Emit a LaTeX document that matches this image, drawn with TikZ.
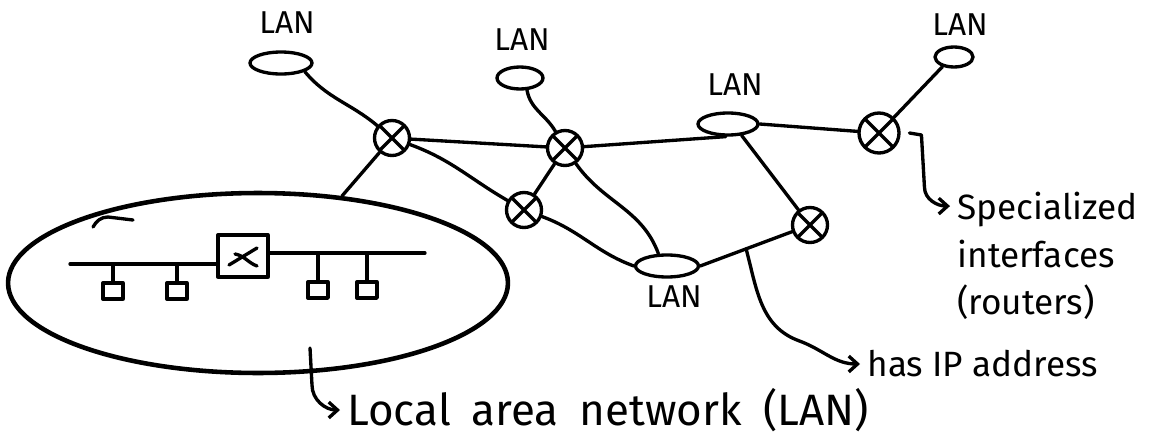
\documentclass[tikz,border=0pt]{standalone}
\usepackage{fontspec}
\setmainfont{Fira Sans}
\usetikzlibrary{shapes.geometric, arrows.meta}

\tikzset{
    lan/.style={draw, ellipse, inner sep=0pt, minimum width=#1, minimum height=0.44cm},
    router/.style={draw, circle, inner sep=0pt, minimum size=0.7cm,
        path picture={\draw (path picture bounding box.south west) -- (path picture bounding box.north east)
            (path picture bounding box.north west) -- (path picture bounding box.south east);}},
    host/.style={draw, inner sep=0pt, minimum width=0.4cm, minimum height=0.32cm},
    lanname/.style={font=\fontsize{18}{20}\selectfont},
    note/.style={font=\fontsize{20}{27}\selectfont, align=left}
}

\begin{document}
\begin{tikzpicture}[x=0.02cm, y=-0.02cm, line width=1.9pt, line cap=round, line join=round,
    >={Straight Barb[length=5pt, width=9pt]}]

    \useasboundingbox (0, 0) rectangle (1157, 443);

    \node[lan=1.24cm] (lan1) at (281, 63) {};
    \node[lan=0.92cm] (lan2) at (520, 78) {};
    \node[lan=1.2cm] (lan3) at (728, 124) {};
    \node[lan=0.76cm, minimum height=0.4cm] (lan4) at (954, 57) {};
    \node[lan=1.26cm] (lan5) at (667, 266) {};

    \node[lanname] (lan1name) at (287, 23) {LAN};
    \node[lanname] (lan2name) at (522, 40) {LAN};
    \node[lanname] (lan3name) at (735, 85) {LAN};
    \node[lanname] (lan4name) at (960, 25) {LAN};
    \node[lanname] (lan5name) at (674, 297) {LAN};

    \node[router] (r1) at (392, 138) {};
    \node[router] (r2) at (565, 148) {};
    \node[router] (r3) at (524, 210) {};
    \node[router, minimum size=0.8cm] (r4) at (879, 133) {};
    \node[router] (r5) at (810, 225) {};

    \node[draw, ellipse, inner sep=0pt, line width=2.6pt, minimum width=10cm, minimum height=3.6cm] (net) at (258, 283) {};
    \draw (93, 227) to[out=60, in=180] (108, 217) -- (133, 220);

    \begin{scope}
        \node[draw, inner sep=0pt, minimum width=1cm, minimum height=0.84cm] (sw) at (243, 256) {};
        \draw ([shift={(-14, 9)}]sw.center) -- ([shift={(14, -8)}]sw.center);
        \draw ([shift={(-8, -2)}]sw.center) to[out=-10, in=160] ([shift={(14, 10)}]sw.center);

        \coordinate (busl) at (70, 264);
        \coordinate (busr) at (425, 253);
        \draw (busl) -- (busl -| sw.west);
        \draw (sw.east |- busr) -- (busr);

        \node[host] (h1) at (113, 291) {};
        \node[host] (h2) at (177, 291) {};
        \node[host] (h3) at (318, 290) {};
        \node[host] (h4) at (367, 290) {};
        \draw (h1.north) -- (h1.north |- busl);
        \draw (h2.north) -- (h2.north |- busl);
        \draw (h3.north) -- (h3.north |- busr);
        \draw (h4.north) -- (h4.north |- busr);
    \end{scope}

    \draw (lan1.-20) to[out=-50, in=140] (r1);
    \draw (r1) -- (r2);
    \draw (r1) to[out=-20, in=150] (r3);
    \draw (r1) -- (net.46);
    \draw (lan2.-60) to[out=-80, in=120] (r2);
    \draw (r2) -- (r3);
    \draw (r2) -- (lan3.-100);
    \draw (r2) to[out=-55, in=110] (lan5.125);
    \draw (r3) to[out=-20, in=160] (lan5.west);
    \draw (lan3.east) -- (r4);
    \draw (lan4.-140) -- (r4);
    \draw (lan3.-40) -- (r5);
    \draw (r5) -- coordinate[pos=0.5] (ipat) (lan5.east);

    \node[note, anchor=west, font=\fontsize{25}{27}\selectfont] (lantxt) at (340, 410) {\spaceskip=0.48em\relax Local area network (LAN)};
    \coordinate (lanfrom) at (310, 348);
    \draw[->] (lanfrom) -- ++(2, 37) to[out=-90, in=180] (lantxt.west);

    \node[note, anchor=north west] (rtxt) at (950, 185) {Specialized\\interfaces\\(routers)};
    \draw[->] ([xshift=5pt]r4.east) -- ++(12, 2) -- ++(3, 52) to[out=-90, in=180] ([yshift=-12pt]rtxt.north west);

    \node[note, anchor=west] (iptxt) at (860, 364) {has IP address};
    \draw[->] (ipat) to[out=-75, in=160] ++(53, 92) to[out=-20, in=180] (iptxt.west);
\end{tikzpicture}
\end{document}
